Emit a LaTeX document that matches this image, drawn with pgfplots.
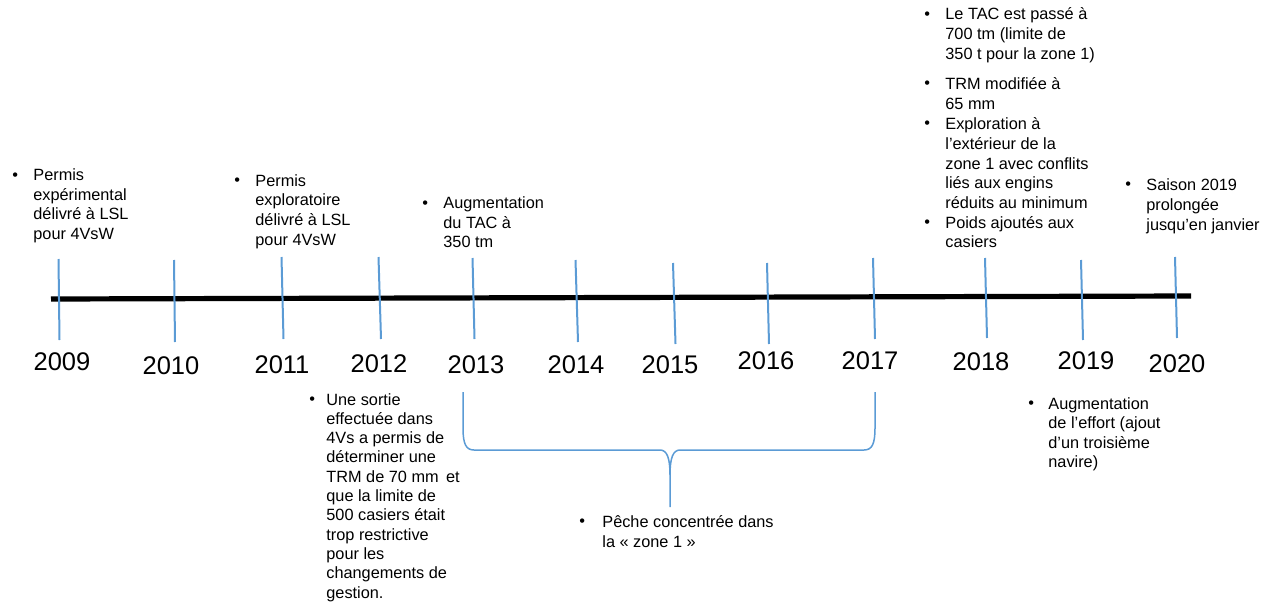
\documentclass[border=0pt]{standalone}
\usepackage{pgfplots}
\pgfplotsset{compat=1.18}
\usepackage{fontspec}
\setmainfont{Liberation Sans}
\definecolor{tblue}{RGB}{91,155,213}
\tikzset{
  tx/.style={font=\fontsize{8.15bp}{9.8bp}\selectfont, anchor=base west, inner sep=0pt},
  yr/.style={font=\fontsize{12.75bp}{14bp}\selectfont, anchor=base, inner sep=0pt}}
\pgfplotsset{tk/.style={tblue, line width=1bp, mark=none}}
\begin{document}
\begin{tikzpicture}
\begin{axis}[name=ax, scale only axis, width=635bp, height=302bp,
  xmin=0, xmax=1270, ymin=0, ymax=604, y dir=reverse, hide axis, clip=false]
% main line
\addplot[black, line width=2.6bp, mark=none] coordinates {(51,299) (1191,296)};
% year ticks
\addplot[tk] coordinates {(58.5,259) (59.5,340)};
\addplot[tk] coordinates {(174,260) (175,342)};
\addplot[tk] coordinates {(281.5,257) (283.5,339)};
\addplot[tk] coordinates {(378.5,257) (381,339)};
\addplot[tk] coordinates {(472.5,258) (474.5,339)};
\addplot[tk] coordinates {(575.5,260) (578,342)};
\addplot[tk] coordinates {(673,263) (675.5,344)};
\addplot[tk] coordinates {(767,263) (769,344)};
\addplot[tk] coordinates {(873,258) (875,339)};
\addplot[tk] coordinates {(985,258) (987,338)};
\addplot[tk] coordinates {(1081,260) (1083,340)};
\addplot[tk] coordinates {(1175,257) (1177,338)};
% years
\node[yr] at (axis cs:62,370) {2009};
\node[yr] at (axis cs:171,374) {2010};
\node[yr] at (axis cs:282,373) {2011};
\node[yr] at (axis cs:379,372) {2012};
\node[yr] at (axis cs:476,373) {2013};
\node[yr] at (axis cs:576,373) {2014};
\node[yr] at (axis cs:670,373.5) {2015};
\node[yr] at (axis cs:766,369) {2016};
\node[yr] at (axis cs:870,369) {2017};
\node[yr] at (axis cs:981,370) {2018};
\node[yr] at (axis cs:1086,369) {2019};
\node[yr] at (axis cs:1177,372) {2020};
% brace
\draw[tblue, line width=0.75bp] (axis cs:463,392) -- (axis cs:463,428) .. controls (axis cs:463,444) and (axis cs:466,450) .. (axis cs:474,450) -- (axis cs:660,450) .. controls (axis cs:667,450) and (axis cs:670,458) .. (axis cs:670,475) -- (axis cs:670,507);
\draw[tblue, line width=0.75bp] (axis cs:875,392) -- (axis cs:875,428) .. controls (axis cs:875,444) and (axis cs:872,450) .. (axis cs:864,450) -- (axis cs:680,450) .. controls (axis cs:673,450) and (axis cs:670,458) .. (axis cs:670,475);
% block 2009
\node[tx] at (axis cs:12,180) {•};
\node[tx] at (axis cs:33,180.5) {Permis};
\node[tx] at (axis cs:33,200.2) {expérimental};
\node[tx] at (axis cs:33,219.9) {délivré à LSL};
\node[tx] at (axis cs:33,239.6) {pour 4VsW};
% block 2011
\node[tx] at (axis cs:234,185.5) {•};
\node[tx] at (axis cs:255,186) {Permis};
\node[tx] at (axis cs:255,205.7) {exploratoire};
\node[tx] at (axis cs:255,225.4) {délivré à LSL};
\node[tx] at (axis cs:255,245) {pour 4VsW};
% block 2013
\node[tx] at (axis cs:422,208) {•};
\node[tx] at (axis cs:443,208.5) {Augmentation};
\node[tx] at (axis cs:443,228) {du TAC à};
\node[tx] at (axis cs:443,247.5) {350 tm};
% block 2018
\node[tx] at (axis cs:924,19.5) {•};
\node[tx] at (axis cs:945,20) {Le TAC est passé à};
\node[tx] at (axis cs:945,40) {700 tm (limite de};
\node[tx] at (axis cs:945,60) {350 t pour la zone 1)};
\node[tx] at (axis cs:924,88.5) {•};
\node[tx] at (axis cs:945,89) {TRM modifiée à};
\node[tx] at (axis cs:945,109) {65 mm};
\node[tx] at (axis cs:924,128.5) {•};
\node[tx] at (axis cs:945,129) {Exploration à};
\node[tx] at (axis cs:945,149) {l’extérieur de la};
\node[tx] at (axis cs:945,169) {zone 1 avec conflits};
\node[tx] at (axis cs:945,188.5) {liés aux engins};
\node[tx] at (axis cs:945,208) {réduits au minimum};
\node[tx] at (axis cs:924,227.5) {•};
\node[tx] at (axis cs:945,228) {Poids ajoutés aux};
\node[tx] at (axis cs:945,247.5) {casiers};
% block 2020
\node[tx] at (axis cs:1125,189.5) {•};
\node[tx] at (axis cs:1146,190) {Saison 2019};
\node[tx] at (axis cs:1146,210) {prolongée};
\node[tx] at (axis cs:1146,230) {jusqu’en janvier};
% block 2012 below
\node[tx] at (axis cs:309,404.5) {•};
\node[tx] at (axis cs:326,405) {Une sortie};
\node[tx] at (axis cs:326,424.3) {effectuée dans};
\node[tx] at (axis cs:326,443.6) {4Vs a permis de};
\node[tx] at (axis cs:326,462.9) {déterminer une};
\node[tx] at (axis cs:326,482.2) {TRM de 70 mm\hspace{0.45em}et};
\node[tx] at (axis cs:326,501.5) {que la limite de};
\node[tx] at (axis cs:326,520.8) {500 casiers était};
\node[tx] at (axis cs:326,540.1) {trop restrictive};
\node[tx] at (axis cs:326,559.4) {pour les};
\node[tx] at (axis cs:326,578.7) {changements de};
\node[tx] at (axis cs:326,598) {gestion.};
% block peche
\node[tx] at (axis cs:579,526.5) {•};
\node[tx] at (axis cs:602,527) {Pêche concentrée dans};
\node[tx] at (axis cs:602,547) {la «~zone 1~»};
% block 2019 below
\node[tx] at (axis cs:1028,408.5) {•};
\node[tx] at (axis cs:1048,409) {Augmentation};
\node[tx] at (axis cs:1048,428.5) {de l’effort (ajout};
\node[tx] at (axis cs:1048,448) {d’un troisième};
\node[tx] at (axis cs:1048,467.5) {navire)};
\end{axis}
\pgfresetboundingbox
\useasboundingbox (ax.south west) rectangle (ax.north east);
\end{tikzpicture}
\end{document}
